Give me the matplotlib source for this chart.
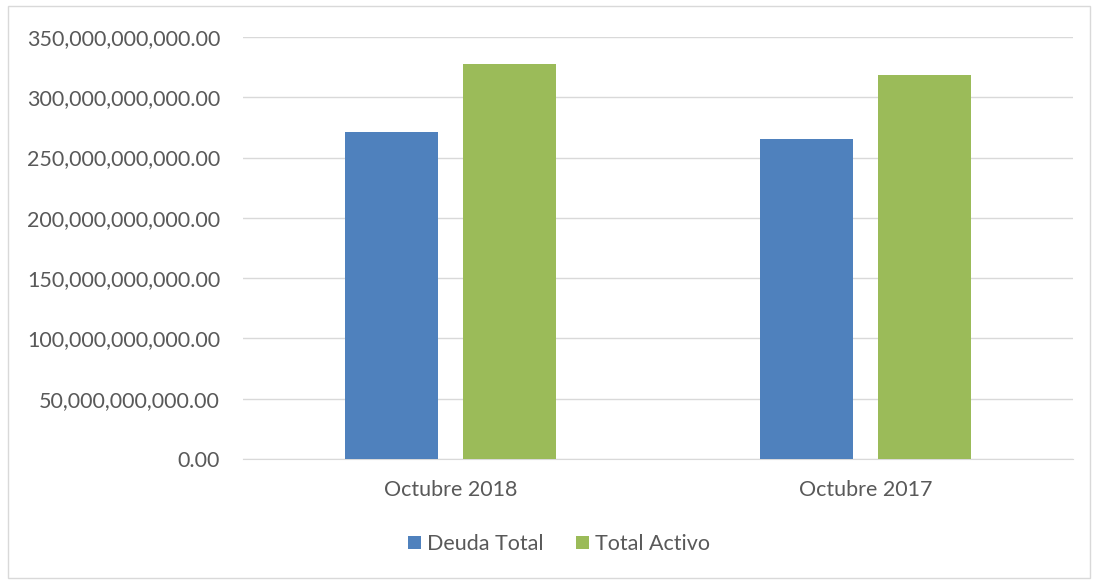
import matplotlib.pyplot as plt
import matplotlib.ticker as ticker
from matplotlib.patches import Rectangle

categories = ['Octubre 2018', 'Octubre 2017']
deuda_total = [271.4e9, 265.3e9]
total_activo = [327.5e9, 318.2e9]

plt.rcParams['font.family'] = ['Lato', 'DejaVu Sans']
text_color = '#595959'

fig = plt.figure(figsize=(10.93, 5.80), dpi=100)
ax = fig.add_axes([243 / 1093, 1 - 459 / 580, 830 / 1093, 422 / 580])

x = range(len(categories))
w = 0.224
off = 0.142
ax.bar([i - off for i in x], deuda_total, w, color='#4f81bd', label='Deuda Total', zorder=3)
ax.bar([i + off for i in x], total_activo, w, color='#9bbb59', label='Total Activo', zorder=3)

ax.set_xlim(-0.5, 1.5)
ax.set_ylim(0, 350e9)
ax.set_yticks([i * 50e9 for i in range(8)])
ax.yaxis.set_major_formatter(ticker.FuncFormatter(lambda v, p: f'{v:,.2f}'))
ax.set_xticks(list(x))
ax.set_xticklabels(categories)
ax.tick_params(axis='both', length=0, labelsize=15.5, colors=text_color)
ax.tick_params(axis='y', pad=16.5)
ax.tick_params(axis='x', pad=15)
ax.grid(axis='y', color='#d9d9d9', linewidth=1, zorder=0)
for s in ['top', 'right', 'left']:
    ax.spines[s].set_visible(False)
ax.spines['bottom'].set_color('#d9d9d9')

leg = fig.legend(loc='center', bbox_to_anchor=(559 / 1093, 1 - 544 / 580), ncol=2, frameon=False,
                 fontsize=15.5, handlelength=0.6, handleheight=0.6, handletextpad=0.3, columnspacing=1.5)
for t in leg.get_texts():
    t.set_color(text_color)

fig.patches.append(Rectangle((8 / 1093, 2 / 580), 1082 / 1093, 572 / 580, transform=fig.transFigure,
                             fill=False, edgecolor='#d9d9d9', linewidth=1))

fig.savefig('out.png', dpi=100)
